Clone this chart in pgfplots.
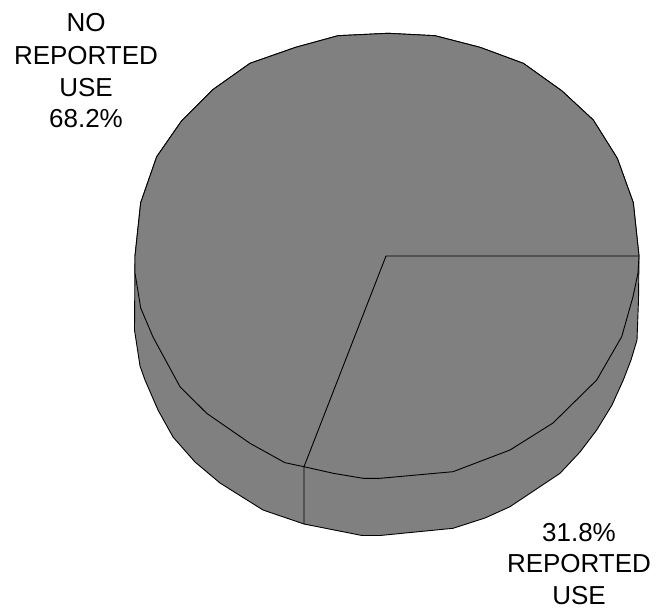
\documentclass[border=0pt]{standalone}
\usepackage{pgfplots}
\pgfplotsset{compat=1.18}
\usepackage{fontspec}
\setmainfont{Liberation Sans}
\definecolor{piegray}{RGB}{128,128,128}
\begin{document}
\begin{tikzpicture}
\begin{axis}[
  scale only axis, width=672pt, height=608pt,
  xmin=0, xmax=672, ymin=0, ymax=608, y dir=reverse,
  hide axis, clip=false]
\path (axis cs:0,0) rectangle (axis cs:672,608);
% silhouette (top upper half + side)
\addplot[fill=piegray, draw=black, line width=0.9pt, line join=round] coordinates {
(639,256)(633.3,202.7)(617.3,158.3)(593.3,120)(561.7,90.7)(523.3,63.3)(480,47.3)(435,35.7)(388,33.3)(338,35.7)(295.7,47.3)(250,63.3)(213.3,89.3)(181.7,120.7)(156.7,156.7)(140.7,202.7)(135,256)
(134.5,330)(140,366)(145,380)(158,410)(173,437)(195,462)(220,483)(263,510)(304,524)(362,535.5)(380,535.5)(453,528.3)(485,518)(510,506.7)(560,473.3)(580,452)(596.7,430)(612,405)(623.3,380)(631,360)(637,340)(638.5,300)
} -- cycle;
% top face
\addplot[fill=piegray, draw=black, line width=0.9pt, line join=round] coordinates {
(135,256)(140.7,202.7)(156.7,156.7)(181.7,120.7)(213.3,89.3)(250,63.3)(295.7,47.3)(338,35.7)(388,33.3)(435,35.7)(480,47.3)(523.3,63.3)(561.7,90.7)(593.3,120)(617.3,158.3)(633.3,202.7)(639,256)
(638,273)(633,296.7)(621.7,336.7)(596.7,380)(553,423)(510,450)(453,471.7)(380,478.3)(363.3,478.3)(333.3,473.3)(304,466.7)(285,462.7)(250,443.3)(206.7,413.3)(180,386.7)(153,337)(140.7,308)(135,273)
} -- cycle;
% slice boundaries (31.8% REPORTED USE vs 68.2% NO REPORTED USE)
\addplot[draw=black, line width=0.9pt] coordinates {(639,256)(386,256)(304,466.7)(304,524)};
\begin{scope}[every node/.style={anchor=base, inner sep=0pt, font=\fontsize{26}{31}\selectfont}]
\node at (axis cs:86,31) {NO};
\node at (axis cs:86,64.3) {REPORTED};
\node at (axis cs:86,96) {USE};
\node at (axis cs:86,127.6) {68.2\%};
\node at (axis cs:579,541) {31.8\%};
\node at (axis cs:579,572.3) {REPORTED};
\node at (axis cs:579,604) {USE};
\end{scope}
\end{axis}
\end{tikzpicture}
\end{document}
